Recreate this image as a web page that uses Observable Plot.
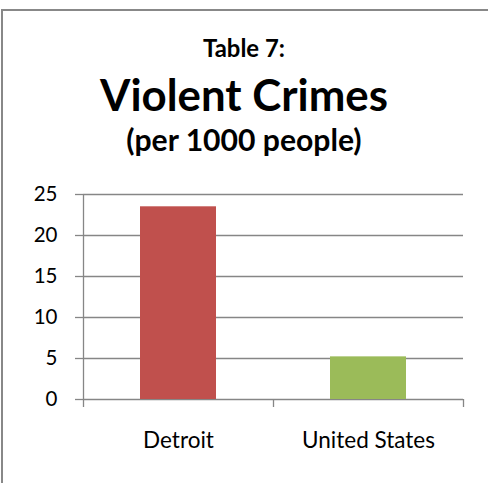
<!DOCTYPE html>
<html><head><meta charset="utf-8">
<script src="https://cdn.jsdelivr.net/npm/d3@7"></script>
<script src="https://cdn.jsdelivr.net/npm/@observablehq/plot@0.6"></script>
<style>
html,body{margin:0;padding:0;background:#fff;}
body{width:488px;height:483px;position:relative;overflow:hidden;font-family:Lato,sans-serif;}
#frame{position:absolute;left:1px;top:9px;width:520px;height:520px;border:2px solid #888;box-sizing:border-box;}
.t{position:absolute;left:0;width:488px;text-align:center;font-weight:bold;white-space:nowrap;color:#000;font-family:Lato,sans-serif;}
#chart{position:absolute;left:0;top:0;}
</style></head><body>
<div id="frame"></div>
<div id="chart"></div>
<script>
// ---- data ----
const titleLines = ["Table 7:", "Violent Crimes", "(per 1000 people)"];
const categories = ["Detroit", "United States"];
const values = [23.5, 5.2];
const colors = ["#C0504D", "#9BBB59"];
const yTicks = [0, 5, 10, 15, 20, 25];

// ---- layout ----
const titleTargets = [{w: 82, base: 56.5}, {w: 288, base: 111}, {w: 236, base: 151}];
const W = 488, H = 483, mL = 83, mR = 25, mT = 194, mB = 84;
const step = (W - mL - mR) / categories.length;
const innerH = H - mT - mB;
const axisColor = "#868686";

const ctx = document.createElement("canvas").getContext("2d");
titleLines.forEach((txt, i) => {
  ctx.font = "bold 100px Lato";
  const m = ctx.measureText(txt);
  const size = 100 * titleTargets[i].w / m.width;
  ctx.font = `bold ${size}px Lato`;
  const m2 = ctx.measureText(txt);
  const asc = m2.fontBoundingBoxAscent, desc = m2.fontBoundingBoxDescent;
  const d = document.createElement("div");
  d.className = "t";
  d.textContent = txt;
  d.style.fontSize = size + "px";
  d.style.lineHeight = (asc + desc) + "px";
  d.style.top = (titleTargets[i].base - asc) + "px";
  document.body.appendChild(d);
});

const data = categories.map((c, i) => ({category: c, value: values[i]}));

const chart = Plot.plot({
  width: W, height: H,
  marginLeft: mL, marginRight: mR, marginTop: mT, marginBottom: mB,
  style: {fontFamily: "Lato, sans-serif", background: "transparent", color: "black", overflow: "visible"},
  x: {domain: categories, paddingInner: 0.6, paddingOuter: 0.3, axis: null},
  y: {domain: [0, 25], axis: null},
  color: {domain: categories, range: colors},
  marks: [
    Plot.ruleY(yTicks, {stroke: axisColor, strokeWidth: 1.3}),
    Plot.ruleX([categories[0]], {dx: -step / 2, stroke: axisColor, strokeWidth: 1.3}),
    Plot.ruleX([categories[0]], {dx: -step / 2, stroke: axisColor, strokeWidth: 1.3, insetTop: innerH, insetBottom: -8}),
    Plot.ruleX(categories, {dx: step / 2, stroke: axisColor, strokeWidth: 1.3, insetTop: innerH, insetBottom: -8}),
    Plot.barY(data, {x: "category", y: "value", fill: "category"}),
    Plot.axisY(yTicks, {tickSize: 8, tickPadding: 18, stroke: axisColor, strokeWidth: 1.3, fill: "black", fontSize: 20.5, label: null}),
    Plot.axisX({tickSize: 0, tickPadding: 33, fill: "black", fontSize: 22.5, label: null})
  ]
});
document.getElementById("chart").appendChild(chart);
</script>
</body></html>
